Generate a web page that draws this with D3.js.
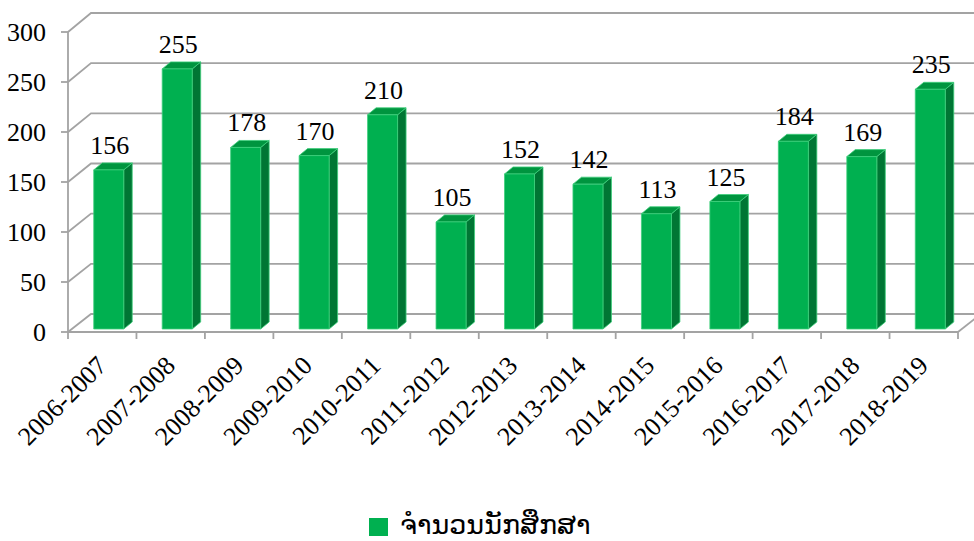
<!DOCTYPE html>
<html><head><meta charset="utf-8">
<script src="https://cdn.jsdelivr.net/npm/d3@7"></script>
<style>body{margin:0;background:#fff}svg{display:block}</style>
</head><body>
<svg id="c" width="974" height="541"></svg>
<script>
const categories = ["2006-2007","2007-2008","2008-2009","2009-2010","2010-2011","2011-2012","2012-2013","2013-2014","2014-2015","2015-2016","2016-2017","2017-2018","2018-2019"];
const values = [156,255,178,170,210,105,152,142,113,125,184,169,235];
const yTicks = [0,50,100,150,200,250,300];
const seriesName = "ຈຳນວນນັກສຶກສາ";

const svg = d3.select("#c");
const grey = "#a3a3a3";
const depthX = 23;
const x = d3.scaleBand().domain(categories).range([68, 958]).paddingInner(0);
const yFront = d3.scaleLinear().domain([0,300]).range([332,32]);
const yBack = d3.scaleLinear().domain([0,300]).range([314,13]);
const yBar = d3.scaleLinear().domain([0,300]).range([329,23]);

// back wall gridlines + left wall diagonals
const g = svg.append("g").attr("fill","none").attr("stroke",grey).attr("stroke-width",1.8);
yTicks.forEach(t => {
  g.append("path").attr("d", `M68,${yFront(t)}L${68+depthX},${yBack(t)}L${958+depthX},${yBack(t)}`);
});
// floor right diagonal
g.append("path").attr("d", `M958,${yFront(0)}L${958+depthX},${yBack(0)}`);
// front axes
g.append("path").attr("d", `M68,${yFront(300)}L68,${yFront(0)}L958,${yFront(0)}`);
yTicks.forEach(t => g.append("path").attr("d", `M61,${yFront(t)}L68,${yFront(t)}`));
const bounds = categories.map(c => x(c)).concat([x.range()[1]]);
bounds.forEach(b => g.append("path").attr("d", `M${b},${yFront(0)}L${b},${yFront(0)+7}`));

// y tick labels
svg.append("g").selectAll("text").data(yTicks).join("text")
  .attr("x",46).attr("y",d=>yFront(d)).attr("dy","0.35em")
  .attr("text-anchor","end").attr("font-family","Liberation Serif").attr("font-size",26)
  .attr("fill","#000").text(d=>d);

// bars
const bw = 30, sx = 8.5, sy = 7;
const bars = svg.append("g");
categories.forEach((c,i) => {
  const v = values[i];
  const cx = x(c) + x.bandwidth()/2;
  const x0 = cx - 8.5, x1 = x0 + bw;
  const yt = yBar(v), yb = yBar(0);
  const gb = bars.append("g").attr("stroke","#3fcf7c").attr("stroke-width",0.8).attr("stroke-linejoin","round");
  gb.append("path").attr("fill","#007634")
    .attr("d",`M${x1},${yb}L${x1+sx},${yb-sy}L${x1+sx},${yt-sy}L${x1},${yt}Z`);
  gb.append("path").attr("fill","#00953f")
    .attr("d",`M${x0},${yt}L${x1},${yt}L${x1+sx},${yt-sy}L${x0+sx},${yt-sy}Z`);
  gb.append("path").attr("fill","#00b050")
    .attr("d",`M${x0},${yb}L${x1},${yb}L${x1},${yt}L${x0},${yt}Z`);
  svg.append("text").attr("x", x0 + bw/2 + 1).attr("y", yt - 16)
    .attr("text-anchor","middle").attr("font-family","Liberation Serif").attr("font-size",26)
    .attr("fill","#000").text(v);
});

// category labels
svg.append("g").selectAll("text").data(categories).join("text")
  .attr("transform", d => `translate(${x(d)+x.bandwidth()/2+6},367) rotate(-45)`)
  .attr("text-anchor","end").attr("font-family","Liberation Serif").attr("font-size",26)
  .attr("fill","#000").text(d=>d);

// legend
const lg = svg.append("g");
lg.append("rect").attr("x",369).attr("y",518).attr("width",19).attr("height",18).attr("fill","#00b050");
lg.append("text").attr("x",400).attr("y",534).attr("font-family","DejaVu Sans").attr("font-size",27)
  .attr("fill","#000").text(seriesName);
</script>
</body></html>
